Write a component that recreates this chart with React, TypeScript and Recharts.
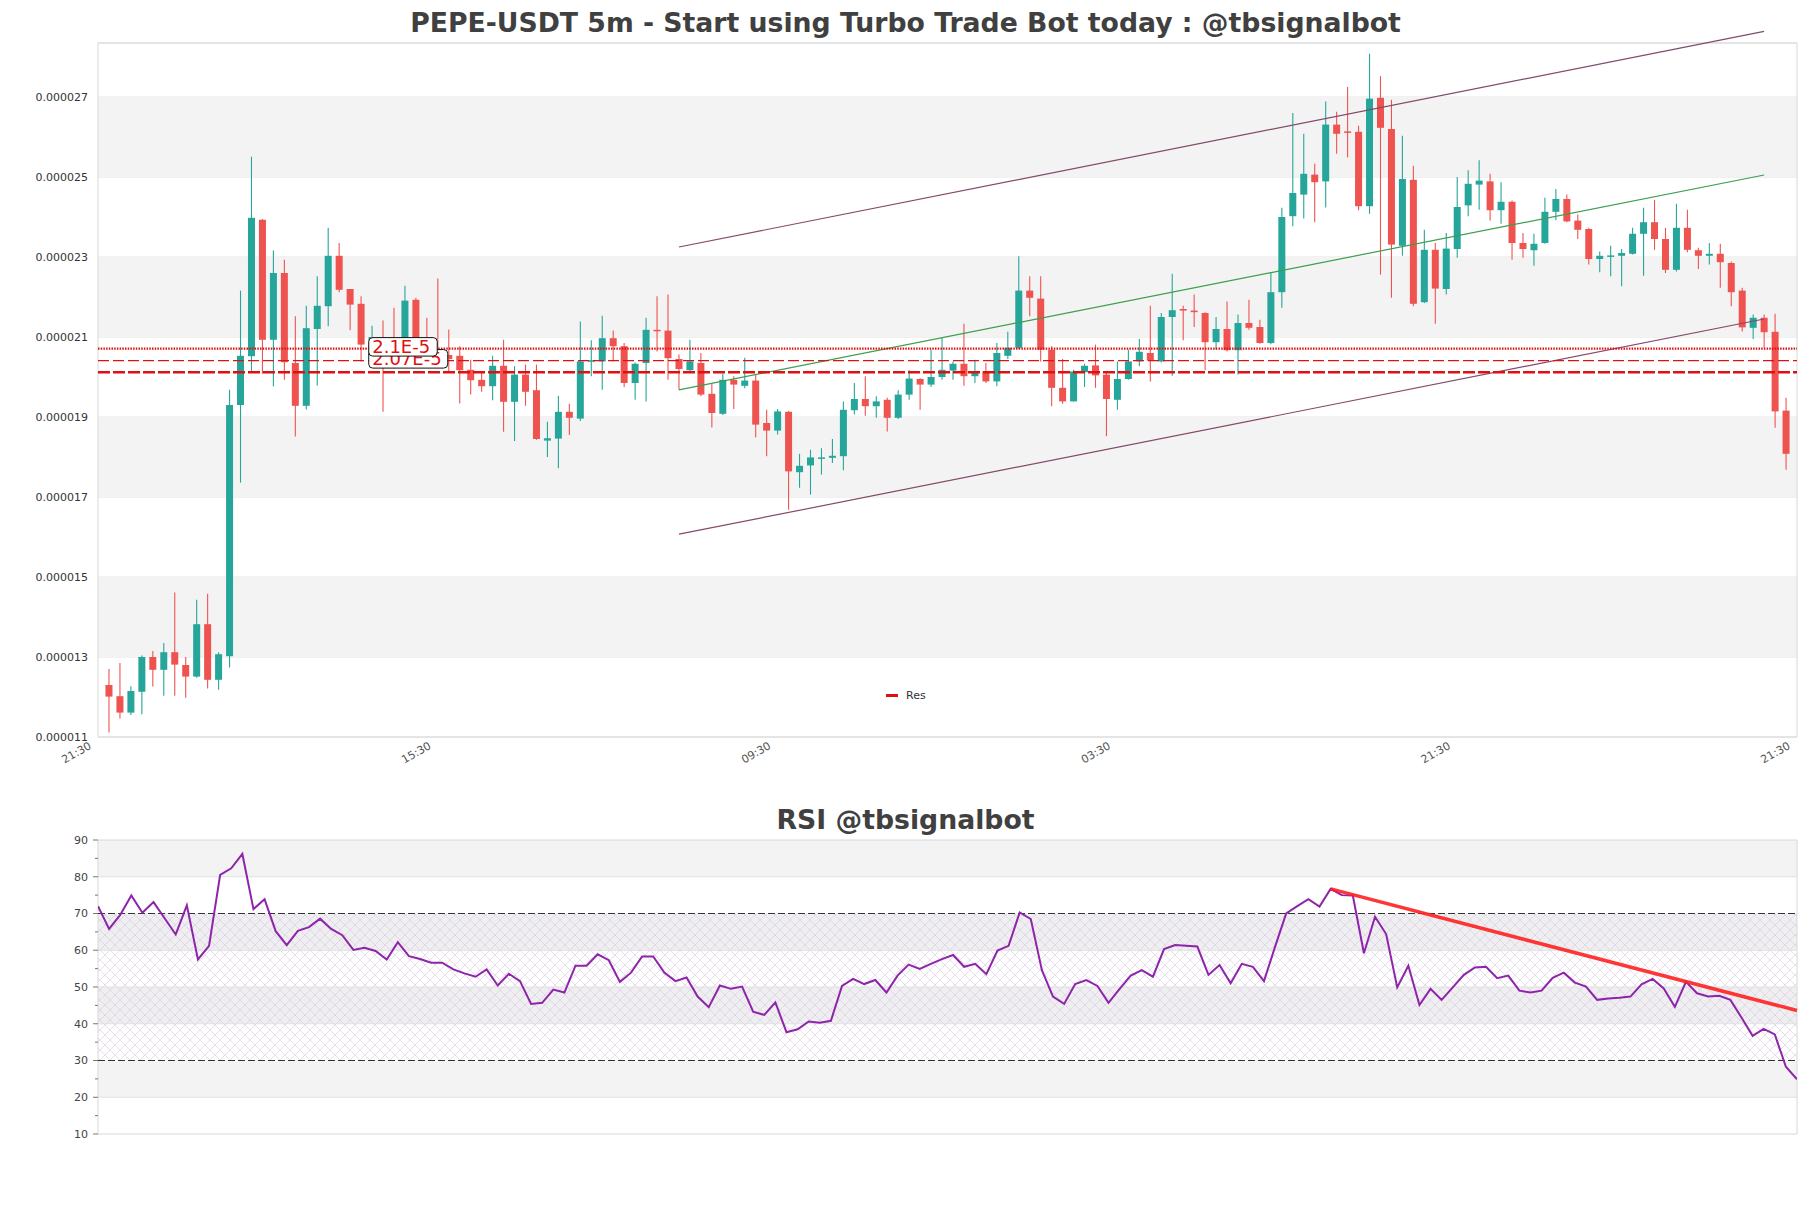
import React from 'react';
import {
  ComposedChart, Bar, Line, XAxis, YAxis, CartesianGrid, ReferenceLine, ReferenceArea, ReferenceDot,
} from 'recharts';

// prices in units of 1e-6 USDT, one entry per 5m candle
const opens = [
  12.30, 12.02, 11.61, 12.13, 13.00, 12.68, 13.12, 12.80, 12.51, 13.82,
  12.43, 13.02, 19.30, 20.52, 23.93, 20.93, 22.60, 20.35, 19.28, 21.20,
  21.77, 23.03, 22.20, 21.83, 20.55, 20.95, 20.75, 20.60, 21.93, 20.80,
  20.65, 20.55, 20.53, 20.18, 19.93, 19.77, 20.28, 19.38, 20.06, 19.67,
  18.41, 18.46, 19.13, 18.96, 20.38, 20.39, 20.97, 20.77, 19.85, 20.35,
  21.18, 21.16, 20.45, 20.17, 20.35, 19.58, 19.08, 19.93, 19.78, 19.91,
  18.85, 18.66, 19.13, 17.62, 17.79, 17.97, 17.98, 18.02, 19.17, 19.45,
  19.27, 19.43, 18.98, 19.56, 19.95, 19.81, 20.00, 20.16, 20.33, 20.02,
  20.14, 19.89, 20.53, 20.73, 22.16, 21.96, 20.68, 19.73, 19.39, 20.12,
  20.29, 20.06, 19.43, 19.95, 20.39, 20.60, 20.39, 21.50, 21.70, 21.66,
  21.60, 20.87, 21.20, 20.67, 21.35, 21.25, 20.85, 22.12, 24.02, 24.56,
  25.06, 24.89, 26.31, 26.14, 26.13, 24.27, 26.98, 26.20, 23.28, 24.93,
  21.87, 23.18, 22.20, 23.20, 24.29, 24.81, 24.89, 24.17, 24.38, 23.35,
  23.17, 23.35, 24.13, 24.45, 23.91, 23.70, 22.95, 23.02, 23.03, 23.08,
  23.58, 23.87, 23.45, 22.68, 23.73, 23.17, 23.03, 23.08, 22.85, 22.16,
  21.23, 21.48, 21.13, 19.16,
];
const highs = [
  12.70, 12.85, 12.27, 13.04, 13.15, 13.35, 14.61, 13.00, 14.43, 14.58,
  13.12, 19.68, 22.16, 25.51, 23.95, 23.16, 22.93, 21.52, 21.78, 22.52,
  23.73, 23.35, 22.20, 22.02, 21.28, 21.41, 21.73, 22.28, 21.98, 21.48,
  22.46, 21.19, 20.77, 20.43, 20.14, 20.53, 20.93, 20.27, 20.31, 20.31,
  18.88, 19.53, 19.33, 21.39, 20.92, 21.53, 21.16, 20.85, 20.36, 21.48,
  22.02, 22.06, 20.56, 20.93, 20.60, 19.85, 20.08, 20.02, 20.48, 20.06,
  19.18, 19.20, 19.15, 18.08, 18.18, 18.22, 18.45, 19.39, 19.85, 20.02,
  19.52, 19.48, 19.67, 20.17, 19.97, 20.68, 20.98, 20.39, 21.33, 20.43,
  20.35, 20.85, 21.13, 23.02, 22.52, 22.52, 20.77, 20.45, 20.18, 20.33,
  20.81, 20.10, 20.39, 20.68, 20.95, 21.78, 21.60, 22.58, 21.78, 22.06,
  21.62, 21.50, 21.89, 21.56, 21.93, 21.43, 22.62, 24.23, 26.60, 26.08,
  25.33, 26.89, 26.63, 27.25, 26.28, 28.08, 27.52, 26.93, 26.03, 25.28,
  23.68, 23.35, 23.60, 25.00, 25.17, 25.42, 25.08, 24.87, 24.41, 23.60,
  23.58, 24.48, 24.70, 24.56, 24.06, 23.73, 23.14, 23.28, 23.20, 23.73,
  24.23, 24.43, 23.73, 24.33, 24.18, 23.23, 23.35, 23.33, 22.89, 22.23,
  21.56, 21.56, 21.58, 19.48,
];
const lows = [
  11.11, 11.46, 11.55, 11.57, 12.26, 12.03, 12.03, 11.98, 12.48, 12.21,
  12.18, 12.74, 17.36, 20.12, 20.08, 19.77, 19.93, 18.51, 19.19, 19.79,
  21.27, 22.12, 21.17, 20.39, 20.45, 19.13, 20.40, 20.50, 20.60, 20.30,
  20.30, 20.10, 19.34, 19.56, 19.63, 19.42, 18.63, 18.40, 19.28, 18.43,
  18.00, 17.72, 18.55, 18.90, 20.02, 19.68, 20.39, 19.75, 19.43, 19.39,
  20.64, 19.93, 19.68, 20.14, 19.52, 18.74, 19.05, 19.20, 19.72, 18.49,
  18.02, 18.56, 16.68, 17.23, 17.06, 17.56, 17.85, 17.67, 19.06, 19.03,
  18.98, 18.64, 18.95, 19.43, 19.18, 19.75, 19.93, 19.93, 19.78, 19.85,
  19.85, 19.77, 20.45, 20.70, 21.52, 20.39, 19.27, 19.33, 19.39, 19.75,
  19.73, 18.52, 19.18, 19.93, 20.27, 19.89, 20.36, 20.03, 20.92, 21.25,
  20.17, 20.68, 20.64, 20.06, 21.18, 20.83, 20.82, 21.73, 23.77, 23.96,
  23.87, 24.24, 25.58, 25.49, 24.17, 24.08, 22.56, 21.98, 23.03, 21.77,
  21.85, 21.33, 22.06, 22.98, 24.02, 24.18, 23.91, 23.83, 22.93, 22.98,
  22.78, 23.33, 23.92, 23.87, 23.45, 22.81, 22.62, 22.52, 22.27, 23.06,
  22.53, 23.18, 22.60, 22.64, 23.12, 22.70, 22.81, 22.23, 21.77, 21.14,
  20.95, 20.73, 18.73, 17.68,
];
const closes = [
  12.01, 11.61, 12.15, 13.00, 12.68, 13.12, 12.81, 12.51, 13.82, 12.43,
  13.07, 19.30, 20.53, 23.98, 20.93, 22.60, 20.37, 19.28, 21.22, 21.78,
  23.03, 22.18, 21.81, 20.81, 21.00, 20.55, 20.50, 21.91, 20.78, 20.50,
  20.45, 20.45, 20.17, 19.92, 19.77, 20.28, 19.38, 20.06, 19.63, 18.45,
  18.47, 19.13, 18.98, 20.39, 20.42, 20.97, 20.77, 19.85, 20.33, 21.18,
  21.15, 20.47, 20.20, 20.39, 19.56, 19.10, 19.93, 19.81, 19.91, 18.81,
  18.66, 19.14, 17.64, 17.78, 17.99, 17.99, 18.03, 19.18, 19.45, 19.27,
  19.39, 18.98, 19.56, 19.96, 19.81, 20.00, 20.18, 20.33, 20.02, 20.14,
  19.89, 20.60, 20.73, 22.16, 21.98, 20.68, 19.73, 19.39, 20.14, 20.28,
  20.04, 19.45, 19.95, 20.39, 20.63, 20.41, 21.50, 21.67, 21.66, 21.62,
  20.87, 21.20, 20.67, 21.35, 21.23, 20.85, 22.12, 24.00, 24.60, 25.08,
  24.87, 26.31, 26.08, 26.12, 24.27, 26.96, 26.23, 23.31, 24.95, 21.83,
  23.18, 22.21, 23.21, 24.25, 24.83, 24.91, 24.17, 24.38, 23.35, 23.20,
  23.33, 24.13, 24.45, 23.89, 23.68, 22.95, 23.03, 23.04, 23.10, 23.58,
  23.87, 23.45, 22.68, 23.73, 23.18, 23.03, 23.08, 22.87, 22.12, 21.24,
  21.48, 21.12, 19.14, 18.08,
];

const rsiValues = [
  72.0, 65.8, 69.6, 74.9, 70.2, 73.1, 68.7, 64.3, 72.2, 57.5,
  61.2, 80.5, 82.3, 86.2, 71.2, 73.9, 65.2, 61.4, 65.3, 66.3,
  68.6, 65.8, 64.1, 60.1, 60.7, 59.8, 57.5, 62.2, 58.4, 57.6,
  56.6, 56.6, 54.8, 53.7, 52.8, 54.8, 50.4, 53.6, 51.6, 45.4,
  45.7, 49.3, 48.5, 55.8, 55.8, 58.9, 57.3, 51.4, 53.9, 58.3,
  58.3, 53.9, 51.6, 52.6, 47.4, 44.5, 50.4, 49.5, 50.1, 43.3,
  42.4, 45.8, 37.7, 38.5, 40.6, 40.3, 40.8, 50.3, 52.2, 50.8,
  51.9, 48.5, 53.1, 56.1, 54.9, 56.3, 57.6, 58.7, 55.5, 56.3,
  53.5, 59.9, 61.2, 70.3, 68.5, 54.6, 47.4, 45.4, 50.8, 51.9,
  50.3, 45.7, 49.5, 53.1, 54.6, 52.8, 60.3, 61.4, 61.2, 61.0,
  53.3, 56.0, 51.0, 56.3, 55.5, 51.6, 61.0, 70.0, 72.0, 73.9,
  71.9, 76.7, 75.0, 74.9, 59.2, 69.1, 64.4, 49.9, 55.8, 45.1,
  49.5, 46.5, 49.9, 53.3, 55.3, 55.5, 52.4, 53.1, 49.0, 48.5,
  49.0, 52.5, 53.9, 51.2, 50.1, 46.5, 46.9, 47.1, 47.4, 50.7,
  52.2, 49.6, 44.6, 51.4, 48.3, 47.4, 47.6, 46.5, 41.7, 36.7,
  38.6, 37.1, 28.3, 24.9,
];

const timeTicks = [-1, 30, 61, 92, 123, 154];
const timeLabels = ['21:30', '15:30', '09:30', '03:30', '21:30', '21:30'];
const priceTicks = [11, 13, 15, 17, 19, 21, 23, 25, 27];
const rsiTicks = [10, 15, 20, 25, 30, 35, 40, 45, 50, 55, 60, 65, 70, 75, 80, 85, 90];

// support / resistance levels and channel (index, price)
const resLevels = [20.71, 20.41, 20.12];
const channelUpper = [{ x: 52, y: 23.25 }, { x: 151, y: 28.64 }];
const channelMid = [{ x: 52, y: 19.68 }, { x: 151, y: 25.05 }];
const channelLower = [{ x: 52, y: 16.07 }, { x: 151, y: 21.45 }];
const rsiTrend = [{ x: 111, y: 76.7 }, { x: 153, y: 43.6 }];

const candles = opens.map((o, i) => ({ i, o, h: highs[i], l: lows[i], c: closes[i] }));
const rsiData = rsiValues.map((v, i) => ({ i, v }));

const GREEN = '#26a69a';
const RED = '#ef5350';
const LEVEL_RED = '#e01010';
const FONT = 'DejaVu Sans, sans-serif';

const Candle = (props: any) => {
  const { x, y, width, height, payload } = props;
  const { o, h, l, c } = payload;
  const k = height / (h - l || 1);
  const top = y + (h - Math.max(o, c)) * k;
  const bot = y + (h - Math.min(o, c)) * k;
  const cx = x + width / 2;
  const col = c >= o ? GREEN : RED;
  return (
    <g>
      <line x1={cx} x2={cx} y1={y} y2={y + height} stroke={col} strokeWidth={1.1} />
      <rect x={x} y={top} width={width} height={Math.max(bot - top, 1.5)} fill={col} />
    </g>
  );
};

const TimeTick = ({ x, y, index }: any) => (
  <text
    x={x - 6} y={y + 11}
    transform={`rotate(-30, ${x - 6}, ${y + 11})`}
    textAnchor="end" fontSize={11} fill="#555" fontFamily={FONT}
  >
    {timeLabels[index]}
  </text>
);

const RsiTick = ({ x, y, payload }: any) => {
  const major = payload.value % 10 === 0;
  return (
    <g>
      <line x1={x - (major ? 5 : 3)} x2={x} y1={y} y2={y} stroke="#777" strokeWidth={1} />
      {major && (
        <text x={x - 10} y={y} dy="0.35em" textAnchor="end" fontSize={11} fill="#444" fontFamily={FONT}>
          {payload.value}
        </text>
      )}
    </g>
  );
};

const levelLabel = (text: string, w: number) => ({ cx, cy }: any) => (
  <g>
    <rect x={cx} y={cy - 11} width={w} height={18.5} rx={4} fill="#fff" stroke="#111" strokeWidth={1} />
    <text x={cx + 3.5} y={cy + 4.3} fontSize={18} fill={LEVEL_RED} fontFamily={FONT}>{text}</text>
  </g>
);

const titleStyle: React.CSSProperties = {
  position: 'absolute', left: 0, width: 1811, textAlign: 'center', fontFamily: FONT,
  fontWeight: 'bold', fontSize: 26.7, lineHeight: '26px', color: '#404040',
};

export default function App() {
  return (
    <div style={{ position: 'absolute', left: 0, top: 0, width: 1811, height: 1208, background: '#fff', fontFamily: FONT }}>
      <svg width={0} height={0} style={{ position: 'absolute' }}>
        <defs>
          <pattern id="rsiHatch" patternUnits="userSpaceOnUse" width={10} height={10}>
            <path d="M0,0 L10,10 M10,0 L0,10" stroke="#d5c9de" strokeWidth={0.6} fill="none" />
          </pattern>
        </defs>
      </svg>

      <div style={{ ...titleStyle, top: 10 }}>PEPE-USDT 5m - Start using Turbo Trade Bot today : @tbsignalbot</div>

      <div style={{ position: 'absolute', left: 0, top: 0 }}>
        <ComposedChart width={1811} height={790} data={candles} margin={{ top: 43, right: 14, bottom: 3, left: 0 }}>
          <CartesianGrid horizontal vertical={false} stroke="#e2e2e2" />
          {[[25, 27], [21, 23], [17, 19], [13, 15]].map(([a, b]) => (
            <ReferenceArea key={a} y1={a} y2={b} fill="#f3f3f3" fillOpacity={1} stroke="none" />
          ))}
          <XAxis
            type="number" dataKey="i" domain={[-1, 154]} allowDataOverflow
            ticks={timeTicks} interval={0} tick={<TimeTick />}
            tickSize={0} tickMargin={0} axisLine={false} height={50}
          />
          <YAxis
            type="number" domain={[11, 28.35]} allowDataOverflow ticks={priceTicks}
            tickFormatter={(v: number) => (v / 1e6).toFixed(6)}
            tick={{ fontSize: 11, fill: '#333', fontFamily: FONT }}
            tickSize={0} tickMargin={10} axisLine={false} width={98}
          />
          <ReferenceArea x1={-1} x2={154} y1={11} y2={28.35} fill="none" stroke="#d8d8d8" />
          <Bar dataKey={(d: any) => [d.l, d.h]} barSize={7} shape={<Candle />} isAnimationActive={false} />
          <ReferenceLine segment={channelUpper} stroke="#85496a" strokeWidth={1.2} ifOverflow="visible" />
          <ReferenceLine segment={channelMid} stroke="#3a9f4e" strokeWidth={1.2} ifOverflow="visible" />
          <ReferenceLine segment={channelLower} stroke="#85496a" strokeWidth={1.2} ifOverflow="visible" />
          <ReferenceLine y={resLevels[0]} stroke={LEVEL_RED} strokeWidth={2.4} strokeDasharray="1.5 1.2" />
          <ReferenceLine y={resLevels[1]} stroke={LEVEL_RED} strokeWidth={1.3} strokeDasharray="11 4" />
          <ReferenceLine y={resLevels[2]} stroke={LEVEL_RED} strokeWidth={2.4} strokeDasharray="12 3" />
          <ReferenceDot x={23.7} y={resLevels[1]} r={0} shape={levelLabel('2.07E-5', 79)} />
          <ReferenceDot x={23.7} y={resLevels[0]} r={0} shape={levelLabel('2.1E-5', 68.5)} />
        </ComposedChart>
      </div>

      <div style={{ position: 'absolute', left: 886, top: 689, display: 'flex', alignItems: 'center', fontSize: 11, color: '#333' }}>
        <span style={{ display: 'inline-block', width: 12, height: 3, background: LEVEL_RED, marginRight: 8 }} />
        <span>Res</span>
      </div>

      <div style={{ ...titleStyle, top: 807 }}>RSI @tbsignalbot</div>

      <div style={{ position: 'absolute', left: 0, top: 790 }}>
        <ComposedChart width={1811} height={418} data={rsiData} margin={{ top: 50, right: 14, bottom: 74, left: 0 }}>
          {[[80, 90], [20, 30]].map(([a, b]) => (
            <ReferenceArea key={a} y1={a} y2={b} fill="#f3f3f3" fillOpacity={1} stroke="none" />
          ))}
          {[[60, 70], [40, 50]].map(([a, b]) => (
            <ReferenceArea key={a} y1={a} y2={b} fill="#efeef1" fillOpacity={1} stroke="none" />
          ))}
          <ReferenceArea y1={30} y2={70} fill="url(#rsiHatch)" fillOpacity={1} stroke="none" />
          {[20, 40, 50, 60, 80].map((v) => (
            <ReferenceLine key={v} y={v} stroke="#e0e0e0" strokeWidth={1} />
          ))}
          <XAxis type="number" dataKey="i" domain={[0, 153]} allowDataOverflow hide />
          <YAxis
            type="number" domain={[10, 90]} allowDataOverflow ticks={rsiTicks} interval={0}
            tick={<RsiTick />} tickSize={0} tickMargin={0} axisLine={false} width={98}
          />
          <ReferenceArea x1={0} x2={153} y1={10} y2={90} fill="none" stroke="#d8d8d8" />
          <ReferenceLine y={70} stroke="#333" strokeWidth={1.2} strokeDasharray="7 3" />
          <ReferenceLine y={30} stroke="#333" strokeWidth={1.2} strokeDasharray="7 3" />
          <Line type="linear" dataKey="v" stroke="#8e24aa" strokeWidth={2} dot={false} isAnimationActive={false} />
          <ReferenceLine segment={rsiTrend} stroke="#ff2020" strokeOpacity={0.9} strokeWidth={3.5} ifOverflow="visible" />
        </ComposedChart>
      </div>
    </div>
  );
}
